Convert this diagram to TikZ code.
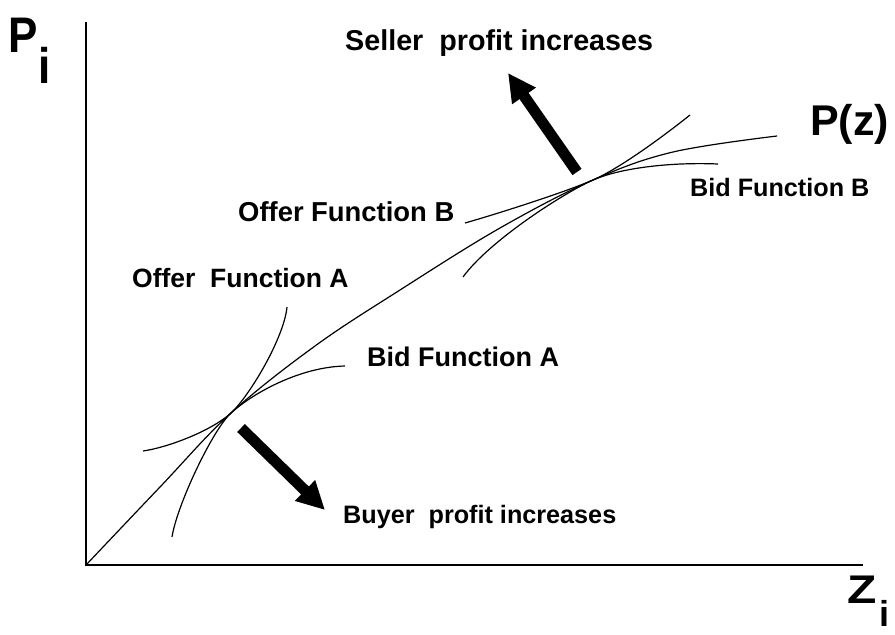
\documentclass[tikz,border=0pt]{standalone}
\usepackage{fontspec}
\setmainfont{Liberation Sans}
\usetikzlibrary{arrows.meta}
\begin{document}
\begin{tikzpicture}[x=1pt,y=-1pt,
  lbl/.style={font=\fontsize{#1}{#1}\selectfont\bfseries, inner sep=0pt, anchor=base west},
  lbl/.default=27,
  pilbl/.style={font=\fontsize{50}{50}\selectfont\bfseries, inner sep=0pt, anchor=base west, xscale=0.88},
  zilbl/.style={font=\fontsize{40}{40}\selectfont\bfseries, inner sep=0pt, anchor=base west},
  pzlbl/.style={font=\fontsize{43}{43}\selectfont\bfseries, inner sep=0pt, anchor=base west},
  curve/.style={line width=1.2pt},
  axis/.style={line width=2pt},
  bigarrow/.style={line width=11pt, -{Triangle[length=28pt,width=27pt]}}]
\useasboundingbox (0,0) rectangle (895,635);
% axes
\coordinate (O) at (86,565);
\coordinate (Ytop) at (86,22);
\coordinate (Xend) at (863,565);
\draw[axis] (Ytop) -- (O) -- (Xend);
% tangency points
\coordinate (TA) at (231,413);
\coordinate (TB) at (593,180);
% P(z)
\draw[curve] plot[smooth, tension=0.6] coordinates {(86,565) (160,487) (231,413) (315,346) (400,290) (500,228) (593,180) (673,152) (777,136)};
% Offer A
\draw[curve] (172,537) .. controls (177,505) and (212.5,430) .. (TA) .. controls (249.5,396) and (284,338) .. (287,307);
% Bid A
\draw[curve] (143,451) .. controls (170,447) and (212.5,430) .. (TA) .. controls (253,393) and (300,367) .. (345,366);
% Offer B
\draw[curve] (463,277) .. controls (490,240) and (565.5,192) .. (TB) .. controls (620.5,168) and (665,135) .. (690,115);
% Bid B
\draw[curve] (465,223) .. controls (500,213) and (565.5,192) .. (TB) .. controls (620.5,168) and (670,162) .. (718,164);
% arrows
\coordinate (bt) at (241,428);
\coordinate (bh) at (325,510);
\draw[bigarrow] (bt) -- (bh);
\coordinate (st) at (577,172);
\coordinate (sh) at (508,73);
\draw[bigarrow] (st) -- (sh);
% labels
\node[lbl=28.7] (seller) at (345,50) {Seller\ \ profit increases};
\node[lbl=27.4] (offerB) at (238,221) {Offer Function B};
\node[lbl=26.5] (offerA) at (132,287) {Offer\ \ Function A};
\node[lbl=27] (bidA) at (367,366) {Bid Function A};
\node[lbl=25.2] (bidB) at (690,196) {Bid Function B};
\node[lbl=25.2] (buyer) at (343,523) {Buyer\ \ profit increases};
\node[pzlbl] (Pz) at (810,135) {P(z)};
\node[pilbl] (P) at (8,52) {P};
\node[pilbl] (Pi) at (38,83) {i};
\node[zilbl, xscale=1.2] (Z) at (847,603) {Z};
\node[zilbl, font=\fontsize{36}{36}\selectfont\bfseries] (Zi) at (879,626) {i};
\end{tikzpicture}
\end{document}
